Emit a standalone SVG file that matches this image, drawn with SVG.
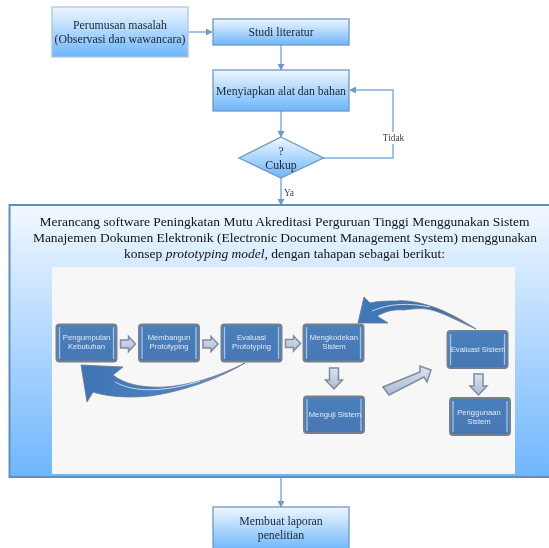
<svg xmlns="http://www.w3.org/2000/svg" width="549" height="548" viewBox="0 0 549 548">
<defs>
<linearGradient id="g" x1="0" y1="0" x2="0" y2="1"><stop offset="0" stop-color="#eef7ff"/><stop offset="1" stop-color="#6db5fb"/></linearGradient>
<linearGradient id="big" x1="0" y1="0" x2="0" y2="1"><stop offset="0" stop-color="#f2f9ff"/><stop offset="1" stop-color="#6fb6fd"/></linearGradient>
<linearGradient id="node" x1="0" y1="0" x2="0" y2="1"><stop offset="0" stop-color="#4a80bd"/><stop offset="1" stop-color="#4677b2"/></linearGradient>
<linearGradient id="ba" x1="0" y1="0" x2="0" y2="1"><stop offset="0" stop-color="#dbe3ef"/><stop offset="1" stop-color="#a9bcd8"/></linearGradient>
<linearGradient id="ca" x1="0" y1="0" x2="1" y2="0"><stop offset="0" stop-color="#3f74b4"/><stop offset="0.6" stop-color="#4f83c0"/><stop offset="1" stop-color="#7f97b4"/></linearGradient>
<linearGradient id="cb" x1="0" y1="0" x2="1" y2="0"><stop offset="0" stop-color="#3f78ba"/><stop offset="0.7" stop-color="#44729f"/><stop offset="1" stop-color="#6f88a6"/></linearGradient>
<filter id="soft" x="-2%" y="-2%" width="104%" height="104%"><feGaussianBlur stdDeviation="0.6"/></filter>
<marker id="ah" markerUnits="userSpaceOnUse" markerWidth="8" markerHeight="8" refX="6" refY="4" orient="auto"><path d="M0 0.500L6.500 4L0 7.500z" fill="#6b9acb"/></marker>
<symbol id="ra" overflow="visible"><path d="M0 3.500H8V0L15 7.500L8 15V11.500H0z" fill="url(#ba)" stroke="#7f8c9c" stroke-width="1.500"/></symbol>
<symbol id="da" overflow="visible"><path d="M4 0H13V12H17L8.500 21L0 12H4z" fill="url(#ba)" stroke="#7f8c9c" stroke-width="1.500"/></symbol>
</defs>
<style>
.box{stroke:#6f98c0;stroke-width:1.3}
.t{font-family:"Liberation Serif",serif;font-size:11.8px;fill:#1c2630;text-anchor:middle}
.big{font-family:"Liberation Serif",serif;font-size:13.5px;fill:#141414;text-anchor:middle}
.s{font-family:"Liberation Serif",serif;font-size:9.3px;fill:#3e444c;text-anchor:middle}
.n{fill:url(#node);stroke:#76808c;stroke-width:2}
.b{fill:none;stroke:#9cc6f0;stroke-width:1.3}
.w{font-family:"Liberation Sans",sans-serif;font-size:7.7px;fill:#dfeaf7;text-anchor:middle}
.c{fill:none;stroke:#83aedb;stroke-width:1.500}
</style>
<rect width="549" height="548" fill="#fff"/>
<g filter="url(#soft)">
<g id="connectors">
<path class="c" d="M188 32H212" marker-end="url(#ah)"/>
<path class="c" d="M281 45V70" marker-end="url(#ah)"/>
<path class="c" d="M281 111V137" marker-end="url(#ah)"/>
<path class="c" d="M323 158H393V90H350" marker-end="url(#ah)"/>
<path class="c" d="M281 178V205" marker-end="url(#ah)"/>
<path class="c" d="M281 477V507" marker-end="url(#ah)"/>
</g>
<g id="n1"><rect class="box" x="52" y="7" width="136" height="50" fill="url(#g)" style="stroke:#a9c7e4"/><text class="t" x="120" y="29">Perumusan masalah</text><text class="t" x="120" y="43">(Observasi dan wawancara)</text></g>
<g id="n2"><rect class="box" x="213" y="19" width="136" height="26" fill="url(#g)"/><text class="t" x="281" y="36">Studi literatur</text></g>
<g id="n3"><rect class="box" x="213" y="70" width="136" height="41" fill="url(#g)"/><text class="t" x="281" y="95">Menyiapkan alat dan bahan</text></g>
<g id="n4"><path class="box" d="M281 137L323.500 158L281 178L239 158z" fill="url(#g)"/><text class="t" x="281" y="155">?</text><text class="t" x="281" y="169">Cukup</text></g>
<rect x="382" y="132" width="23" height="12" fill="#fff"/>
<text class="s" x="393.500" y="141">Tidak</text>
<text class="s" x="289" y="196">Ya</text>
<g id="n5">
<rect x="9.500" y="205" width="541" height="272" fill="url(#big)" stroke="#5f8fbd" stroke-width="2"/>
<text class="big" x="284.500" y="226">Merancang software Peningkatan Mutu Akreditasi Perguruan Tinggi Menggunakan Sistem</text>
<text class="big" x="285" y="242">Manajemen Dokumen Elektronik (Electronic Document Management System) menggunakan</text>
<text class="big" x="284.500" y="258">konsep <tspan font-style="italic">prototyping model</tspan>, dengan tahapan sebagai berikut:</text>
<rect x="52" y="267" width="463" height="207" fill="#f7f7f8"/>
</g>
<g id="a1"><use href="#ra" x="120.500" y="336.500"/><use href="#ra" x="203" y="336.500"/><use href="#ra" x="285.500" y="336"/><use href="#da" x="325.500" y="368"/><use href="#da" x="470" y="374"/>
<path d="M383 387L420 372L420 366L431 370L427 382L424 377L389 395z" fill="url(#ba)" stroke="#7f8c9c" stroke-width="1.500"/></g>
<g id="a2"><path d="M245 363C215 378 190 385 165 387C145 388 125 385 113 375L123 367L81 365L87 402L93 392C108 397 130 398 150 396C185 391 220 378 245 363z" fill="url(#ca)" stroke="#66788f" stroke-width="0.800"/><path d="M115 382C135 393 165 392 200 381" fill="none" stroke="#c6d9ee" stroke-width="1"/></g>
<g id="a3"><path d="M476 329C462 320 445 310 427 305C417 302 405 300 397 301C387 301 379 301 370 303L364 297L358 323L388 323L377 316C386 311 395 309 403 310C412 309 420 308 427 309C440 311 458 321 476 329z" fill="url(#cb)" stroke="#66788f" stroke-width="0.800"/><path d="M372 311C390 303 410 303 430 307" fill="none" stroke="#c6d9ee" stroke-width="1"/></g>
<g id="p1"><rect class="n" x="56.500" y="324.500" width="60" height="37" rx="3"/><path class="b" d="M59.500 327V359M113.500 327V359"/><text class="w" x="86.500" y="340">Pengumpulan</text><text class="w" x="86.500" y="349">Kebutuhan</text></g>
<g id="p2"><rect class="n" x="139" y="324.500" width="60" height="37" rx="3"/><path class="b" d="M142 327V359M196 327V359"/><text class="w" x="169" y="340">Membangun</text><text class="w" x="169" y="349">Prototyping</text></g>
<g id="p3"><rect class="n" x="221.500" y="324.500" width="60" height="37" rx="3"/><path class="b" d="M224.500 327V359M278.500 327V359"/><text class="w" x="251.500" y="340">Evaluasi</text><text class="w" x="251.500" y="349">Prototyping</text></g>
<g id="p4"><rect class="n" x="303.500" y="324.500" width="60" height="37" rx="3"/><path class="b" d="M306.500 327V359M360.500 327V359"/><text class="w" x="334" y="340">Mengkodekan</text><text class="w" x="334" y="349">Sistem</text></g>
<g id="p5"><rect class="n" x="304" y="396.500" width="60" height="36.500" rx="3"/><path class="b" d="M307 399V431M361 399V431"/><text class="w" x="335" y="417">Menguji Sistem</text></g>
<g id="p6"><rect class="n" x="447.500" y="331" width="60" height="37" rx="3"/><path class="b" d="M450.500 334V365M504.500 334V365"/><text class="w" x="478" y="352">Evaluasi Sistem</text></g>
<g id="p7"><rect class="n" x="450" y="398" width="60" height="37" rx="3"/><path class="b" d="M453 401V432M507 401V432"/><text class="w" x="479" y="415">Penggunaan</text><text class="w" x="479" y="424">Sistem</text></g>
<g id="n6"><rect class="box" x="213" y="507" width="136" height="44" fill="url(#g)"/><text class="t" x="281" y="525">Membuat laporan</text><text class="t" x="281" y="539">penelitian</text></g>
</g>
</svg>
